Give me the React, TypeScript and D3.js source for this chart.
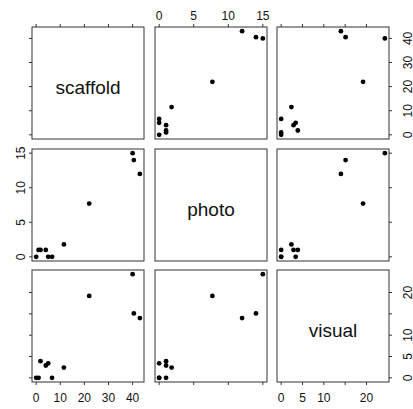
import React from "react";
import * as d3 from "d3";

const varNames = ["scaffold", "photo", "visual"];
const scaffold = [0, 1, 1.8, 4, 5, 6.6, 11.5, 22, 40, 40.5, 43];
const photo = [0, 1, 1, 1, 0, 0, 1.8, 7.7, 15, 14, 12];
const visual = [0, 0, 3.9, 2.9, 3.4, 0, 2.4, 19.2, 24.3, 15.1, 14];
const scaffoldTicks = [0, 10, 20, 30, 40];
const photoTicks = [0, 5, 10, 15];
const visualTicks = [0, 5, 10, 15, 20];
const visualLabels = [0, 5, 10, 20];

const data = [scaffold, photo, visual];
const ticks = [scaffoldTicks, photoTicks, visualTicks];
const labels = [scaffoldTicks, photoTicks, visualLabels];

const colLeft = [32, 155, 277];
const rowTop = [27, 149, 270];
const SIZE = 112;
const TICK = 3;
const FONT = "'Liberation Sans', Arial, Helvetica, sans-serif";

function ext(v: number[]) {
  const [a, b] = d3.extent(v) as [number, number];
  const p = (b - a) * 0.04;
  return [a - p, b + p];
}

export default function App() {
  const xs = data.map((v, j) =>
    d3.scaleLinear().domain(ext(v)).range([colLeft[j], colLeft[j] + SIZE])
  );
  const ys = data.map((v, i) =>
    d3.scaleLinear().domain(ext(v)).range([rowTop[i] + SIZE, rowTop[i]])
  );
  const els: React.ReactNode[] = [];
  for (let i = 0; i < 3; i++) {
    for (let j = 0; j < 3; j++) {
      const x0 = colLeft[j];
      const y0 = rowTop[i];
      els.push(
        <rect key={`r${i}${j}`} x={x0} y={y0} width={SIZE} height={SIZE}
          fill="none" stroke="#333" strokeWidth={1} />
      );
      if (i === j) {
        els.push(
          <text key={`t${i}`} x={x0 + SIZE / 2} y={y0 + SIZE / 2 + 10.5} fontSize={19}
            fontFamily={FONT} textAnchor="middle" fill="#111">
            {varNames[i]}
          </text>
        );
      } else {
        data[j].forEach((xv, k) => {
          els.push(
            <circle key={`p${i}${j}${k}`} cx={xs[j](xv)} cy={ys[i](data[i][k])} r={2.4} fill="#000" />
          );
        });
      }
    }
  }
  // top & bottom axes
  for (let j = 0; j < 3; j++) {
    ticks[j].forEach((t) => {
      const x = xs[j](t);
      els.push(<line key={`tt${j}${t}`} x1={x} x2={x} y1={rowTop[0]} y2={rowTop[0] - TICK} stroke="#333" />);
      els.push(<line key={`tb${j}${t}`} x1={x} x2={x} y1={rowTop[2] + SIZE} y2={rowTop[2] + SIZE + TICK} stroke="#333" />);
    });
    if (j === 1) {
      labels[j].forEach((t) => {
        els.push(<text key={`lt${j}${t}`} x={xs[j](t)} y={19.5} fontSize={12} fontFamily={FONT} textAnchor="middle" fill="#111">{t}</text>);
      });
    } else {
      labels[j].forEach((t) => {
        els.push(<text key={`lb${j}${t}`} x={xs[j](t)} y={401.5} fontSize={12} fontFamily={FONT} textAnchor="middle" fill="#111">{t}</text>);
      });
    }
  }
  // left & right axes
  for (let i = 0; i < 3; i++) {
    ticks[i].forEach((t) => {
      const y = ys[i](t);
      els.push(<line key={`yl${i}${t}`} x1={colLeft[0]} x2={colLeft[0] - TICK} y1={y} y2={y} stroke="#333" />);
      els.push(<line key={`yr${i}${t}`} x1={colLeft[2] + SIZE} x2={colLeft[2] + SIZE + TICK} y1={y} y2={y} stroke="#333" />);
    });
    if (i === 1) {
      labels[i].forEach((t) => {
        const y = ys[i](t);
        els.push(<text key={`ll${i}${t}`} transform={`translate(24.5,${y}) rotate(-90)`} fontSize={12} fontFamily={FONT} textAnchor="middle" fill="#111">{t}</text>);
      });
    } else {
      labels[i].forEach((t) => {
        const y = ys[i](t);
        els.push(<text key={`lr${i}${t}`} transform={`translate(411.5,${y}) rotate(-90)`} fontSize={12} fontFamily={FONT} textAnchor="middle" fill="#111">{t}</text>);
      });
    }
  }
  return (
    <svg width={413} height={409} style={{ position: "absolute", left: 0, top: 0, background: "#fff" }}>
      <rect x={0} y={0} width={413} height={409} fill="#fff" />
      {els}
    </svg>
  );
}
